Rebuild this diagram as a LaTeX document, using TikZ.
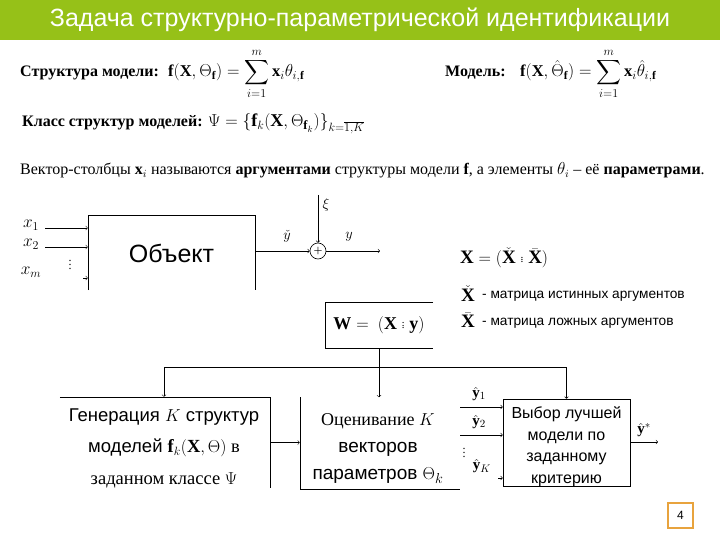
\documentclass[tikz,border=0pt]{standalone}
\usepackage{fontspec}
\usepackage{amsmath}
\setmainfont{Liberation Serif}
\setsansfont{Liberation Sans}
\usetikzlibrary{positioning, calc}

\definecolor{titlegreen}{RGB}{150,193,24}
\definecolor{pageorange}{RGB}{232,163,61}

\newcommand{\tdots}{\mathrel{\raisebox{0.1ex}{\scalebox{0.6}{$\vdots$}}}}

\tikzset{
	arr/.style={->, line width=0.6pt},
	wire/.style={line width=0.6pt},
	titletext/.style={font=\sffamily\fontsize{25}{28}\selectfont, text=white},
	bodytext/.style={font=\rmfamily\fontsize{16}{18}\selectfont},
	mathtext/.style={font=\rmfamily\fontsize{16.5}{19}\selectfont},
	linetext/.style={font=\rmfamily\fontsize{16}{18}\selectfont},
	legendtext/.style={font=\sffamily\fontsize{13.7}{16}\selectfont},
	blocktext/.style={font=\sffamily\fontsize{18.5}{31.5}\selectfont, align=center},
	choicetext/.style={font=\sffamily\fontsize{16}{21.5}\selectfont, align=center},
	varlabel/.style={font=\rmfamily\fontsize{15}{17}\selectfont},
	inlabel/.style={font=\rmfamily\fontsize{17}{19}\selectfont}
}

\begin{document}
\begin{tikzpicture}[x=1pt, y=-1pt, every node/.style={inner sep=0pt}]
	\useasboundingbox (0,0) rectangle (720,540);
	
	%//title bar
	\fill[titlegreen] (0,0) rectangle (720,40);
	\node[titletext] (title) at (360,20) {Задача структурно-параметрической идентификации};
	
	%//structure and model
	\node[bodytext, anchor=base west] (structlab) at (20,77) {\textbf{Структура модели:}};
	\node[mathtext, anchor=base west] (structeq) at (168,77) {$\displaystyle \mathbf{f}(\mathbf{X},\Theta_{\mathbf{f}}) = \sum_{i=1}^{m}\mathbf{x}_i\theta_{i,\mathbf{f}}$};
	\node[bodytext, anchor=base west] (modellab) at (445,77) {\textbf{Модель:}};
	\node[mathtext, anchor=base west] (modeleq) at (520,77) {$\displaystyle \mathbf{f}(\mathbf{X},\hat{\Theta}_{\mathbf{f}}) = \sum_{i=1}^{m}\mathbf{x}_i\hat{\theta}_{i,\mathbf{f}}$};
	
	\node[bodytext, anchor=base west] (classlab) at (22,127) {\textbf{Класс структур моделей:}};
	\node[font=\rmfamily\fontsize{18}{20}\selectfont, anchor=base west] (classeq) at (208,127) {$\Psi = \{\mathbf{f}_k(\mathbf{X},\Theta_{\mathbf{f}_k})\}_{k=\overline{1,K}}$};
	
	\node[linetext, anchor=base west] (argline) at (20,175) {Вектор-столбцы $\mathbf{x}_i$ называются \textbf{аргументами} структуры модели $\mathbf{f}$, а элементы $\theta_i$ – её \textbf{параметрами}.};
	
	%//object
	\node[font=\sffamily\fontsize{25}{28}\selectfont, minimum width=167pt, minimum height=74pt] (obj) at (171.5,253) {Объект};
	\draw[wire] (obj.south west) |- (obj.north east) -- (obj.south east);
	
	\foreach \n/\yy/\val in {1/228/$x_1$, 2/247/$x_2$}
	{
		\node[inlabel] (lab\n) at (31,\yy-3) {\val};
		\coordinate (in\n) at (45,\yy);
		\draw[arr] (in\n) -- (in\n -| obj.west);
	}
	\node[inlabel] (labm) at (31,272) {$x_m$};
	\node[font=\fontsize{12}{12}\selectfont] (indots) at (70,262) {$\vdots$};
	\coordinate (inm) at (83,278);
	\draw[arr] (inm) -- (inm -| obj.west);
	
	%//noise and output
	\node[circle, draw, line width=0.6pt, minimum size=16pt] (sum) at (318,251) {$\boldsymbol{+}$};
	\draw[arr] (obj.east |- sum) -- (sum);
	\coordinate (xitop) at (318,195);
	\draw[arr] (xitop) -- (sum);
	\node[varlabel] (xi) at (326,205) {$\xi$};
	\node[varlabel] (ycheck) at (287,236) {$\check{y}$};
	\coordinate (yout) at (380,251);
	\draw[arr] (sum) -- (yout);
	\node[varlabel] (yy) at (349,237) {$y$};
	
	%//argument matrices
	\node[font=\rmfamily\fontsize{19}{21}\selectfont, anchor=west] (xsplit) at (460,258) {$\mathbf{X} = (\check{\mathbf{X}} \tdots \bar{\mathbf{X}})$};
	\node[font=\rmfamily\fontsize{19}{21}\selectfont] (xtrue) at (468,294) {$\check{\mathbf{X}}$};
	\node[legendtext, anchor=west] (xtruetxt) at (482,296) {- матрица истинных аргументов};
	\node[font=\rmfamily\fontsize{19}{21}\selectfont] (xfalse) at (468,320) {$\bar{\mathbf{X}}$};
	\node[legendtext, anchor=west] (xfalsetxt) at (482,323) {- матрица ложных аргументов};
	
	%//data matrix
	\node[font=\rmfamily\fontsize{18}{20}\selectfont, minimum width=108pt, minimum height=46pt] (wbox) at (379,325) {$\mathbf{W} = \ (\mathbf{X} \tdots \mathbf{y})$};
	\draw[wire] (wbox.north east) -- (wbox.north west) |- (wbox.south east);
	
	%//generation, estimation, choice
	\node[minimum width=210pt, minimum height=91pt] (gen) at (165,442.5) {};
	\draw[wire] (gen.north west) -- (gen.north east) -- (gen.south east);
	\node[blocktext] (gentext) at (164,448) {Генерация {\rmfamily$K$} структур\\ моделей {\rmfamily$\mathbf{f}_k(\mathbf{X},\Theta)$ в}\\ {\rmfamily заданном классе $\Psi$}};
	
	\node[minimum width=160pt, minimum height=92pt] (est) at (380,443.5) {};
	\draw[wire] (est.north west) |- (est.south east);
	\node[font=\sffamily\fontsize{19}{27}\selectfont, align=center] (esttext) at (378,449) {{\rmfamily\fontsize{18}{18}\selectfont Оценивание $K$}\\ векторов\\ параметров {\rmfamily$\Theta_k$}};
	
	\node[draw, line width=0.6pt, minimum width=127pt, minimum height=87pt] (sel) at (566.5,442.5) {};
	\node[choicetext] (seltext) at (566.5,446.5) {Выбор лучшей\\ модели по\\ заданному\\ критерию};
	
	\draw[arr] (gen.east |- sel) -- (est.west |- sel);
	
	\coordinate (busL) at (164,367);
	\coordinate (busR) at (sel.north |- busL);
	\draw[wire] (busL) -- (busR);
	\draw[arr] (busL) -- (busL |- gen.north);
	\draw[arr] (busR) -- (sel.north);
	\draw[arr] (wbox.south) -- (wbox.south |- est.north);
	
	\foreach \n/\yy/\val in {1/407/$\hat{\mathbf{y}}_1$, 2/435/$\hat{\mathbf{y}}_2$}
	{
		\coordinate (yh\n) at (460,\yy);
		\draw[arr] (yh\n) -- (yh\n -| sel.west);
		\node[varlabel] (yhlab\n) at (479,\yy-13) {\val};
	}
	\node[font=\fontsize{12}{12}\selectfont] (yhdots) at (464,450) {$\vdots$};
	\node[varlabel] (yhlabK) at (482,466) {$\hat{\mathbf{y}}_K$};
	\coordinate (yhK) at (498,478);
	\draw[arr] (yhK) -- (yhK -| sel.west);
	
	\coordinate (ybest) at (658,442);
	\draw[arr] (sel.east |- ybest) -- (ybest);
	\node[varlabel] (ybestlab) at (644,430) {$\hat{\mathbf{y}}^{*}$};
	
	%//page number
	\node[draw=pageorange, line width=2pt, minimum size=25pt, font=\sffamily\fontsize{12}{14}\selectfont] (page) at (680.5,515.5) {4};
\end{tikzpicture}
\end{document}
